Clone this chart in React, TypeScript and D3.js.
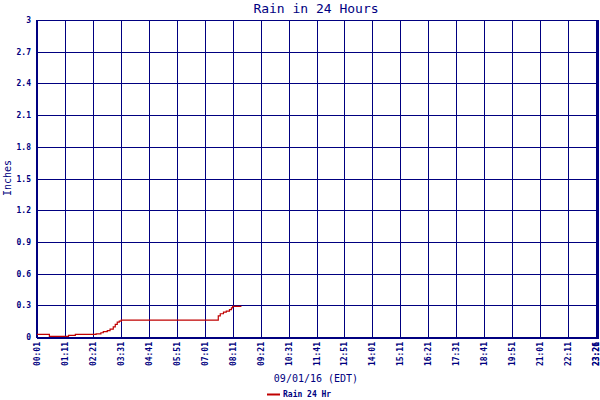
import * as d3 from "d3";
import React, { useEffect, useRef } from "react";

// minutes since midnight, 09/01/16 (EDT)
const rainTimes = [1, 32, 80, 97, 149, 161, 167, 177, 184, 192, 197, 202, 207, 212, 452, 455, 460, 468, 475, 483, 488, 491, 513];
const rainValues = [0.025, 0.005, 0.015, 0.025, 0.03, 0.04, 0.05, 0.06, 0.075, 0.095, 0.12, 0.14, 0.15, 0.16, 0.16, 0.2, 0.22, 0.235, 0.245, 0.26, 0.275, 0.29, 0.29];
const yTicks = [0, 0.3, 0.6, 0.9, 1.2, 1.5, 1.8, 2.1, 2.4, 2.7, 3];
const xTickLabels = ["00:01", "01:11", "02:21", "03:31", "04:41", "05:51", "07:01", "08:11", "09:21", "10:31", "11:41", "12:51", "14:01", "15:11", "16:21", "17:31", "18:41", "19:51", "21:01", "22:11", "23:21", "23:26"];
const xTickMinutes = [1, 71, 141, 211, 281, 351, 421, 491, 561, 631, 701, 771, 841, 911, 981, 1051, 1121, 1191, 1261, 1331, 1401, 1406];

const NAVY = "#000080";
const RED = "#c00000";
const FONT = "'DejaVu Sans Mono', monospace";

const W = 600;
const H = 400;
const left = 37;
const right = 598;
const top = 20;
const bottom = 337;

const App: React.FC = () => {
  const ref = useRef<SVGSVGElement>(null);

  useEffect(() => {
    if (!ref.current) return;
    const svg = d3.select(ref.current);
    svg.selectAll("*").remove();

    const x = d3.scaleLinear().domain([1, 1406]).range([left, right]);
    const y = d3.scaleLinear().domain([0, 3]).range([bottom, top]);

    svg.append("rect").attr("width", W).attr("height", H).attr("fill", "white");

    // grid
    const grid = svg.append("g").attr("shape-rendering", "crispEdges");
    grid
      .selectAll("line.h")
      .data(yTicks)
      .enter()
      .append("line")
      .attr("x1", left)
      .attr("x2", right)
      .attr("y1", (d) => Math.round(y(d)) + 0.5)
      .attr("y2", (d) => Math.round(y(d)) + 0.5)
      .attr("stroke", NAVY)
      .attr("stroke-width", 1);
    grid
      .selectAll("line.v")
      .data(xTickMinutes.slice(0, -1))
      .enter()
      .append("line")
      .attr("x1", (d) => Math.round(x(d)) + 0.5)
      .attr("x2", (d) => Math.round(x(d)) + 0.5)
      .attr("y1", top)
      .attr("y2", bottom)
      .attr("stroke", NAVY)
      .attr("stroke-width", 1);

    // frame (left, bottom, right thick)
    grid.append("line").attr("x1", left).attr("x2", left).attr("y1", top).attr("y2", bottom + 1).attr("stroke", NAVY).attr("stroke-width", 2);
    grid.append("line").attr("x1", left).attr("x2", right + 1).attr("y1", bottom + 1).attr("y2", bottom + 1).attr("stroke", NAVY).attr("stroke-width", 2);
    grid.append("line").attr("x1", right).attr("x2", right).attr("y1", top).attr("y2", bottom + 1).attr("stroke", NAVY).attr("stroke-width", 2);

    // rain line
    const line = d3
      .line<number>()
      .x((_, i) => x(rainTimes[i]))
      .y((d) => y(d))
      .curve(d3.curveStepAfter);
    svg
      .append("path")
      .datum(rainValues)
      .attr("d", line)
      .attr("fill", "none")
      .attr("stroke", RED)
      .attr("stroke-width", 1.2);

    // y labels
    svg
      .selectAll("text.y")
      .data(yTicks)
      .enter()
      .append("text")
      .attr("x", 31)
      .attr("y", (d) => y(d) + 3)
      .attr("text-anchor", "end")
      .style("font-family", FONT)
      .style("font-size", "8px")
      .style("font-weight", "bold")
      .style("fill", NAVY)
      .text((d) => d3.format("~g")(d));

    // x labels (last one squeezed against the right edge like the original)
    svg
      .selectAll("text.x")
      .data(xTickMinutes)
      .enter()
      .append("text")
      .attr("transform", (d) => `translate(${Math.min(x(d) + 3, W - 1)}, 342) rotate(-90)`)
      .attr("text-anchor", "end")
      .style("font-family", FONT)
      .style("font-size", "8px")
      .style("font-weight", "bold")
      .style("fill", NAVY)
      .text((_, i) => xTickLabels[i]);

    // titles
    svg
      .append("text")
      .attr("x", 316)
      .attr("y", 13)
      .attr("text-anchor", "middle")
      .style("font-family", FONT)
      .style("font-size", "13px")
      .style("fill", NAVY)
      .text("Rain in 24 Hours");

    svg
      .append("text")
      .attr("transform", "translate(11, 178) rotate(-90)")
      .attr("text-anchor", "middle")
      .style("font-family", FONT)
      .style("font-size", "10px")
      .style("fill", NAVY)
      .text("Inches");

    svg
      .append("text")
      .attr("x", 316)
      .attr("y", 382)
      .attr("text-anchor", "middle")
      .style("font-family", FONT)
      .style("font-size", "10px")
      .style("fill", NAVY)
      .text("09/01/16 (EDT)");

    // legend
    svg.append("line").attr("x1", 267).attr("x2", 280).attr("y1", 394.5).attr("y2", 394.5).attr("stroke", RED).attr("stroke-width", 2);
    svg
      .append("text")
      .attr("x", 283)
      .attr("y", 397)
      .style("font-family", FONT)
      .style("font-size", "8px")
      .style("font-weight", "bold")
      .style("fill", NAVY)
      .text("Rain 24 Hr");
  }, []);

  return <svg ref={ref} width={W} height={H} style={{ position: "absolute", left: 0, top: 0 }}></svg>;
};

export default App;
